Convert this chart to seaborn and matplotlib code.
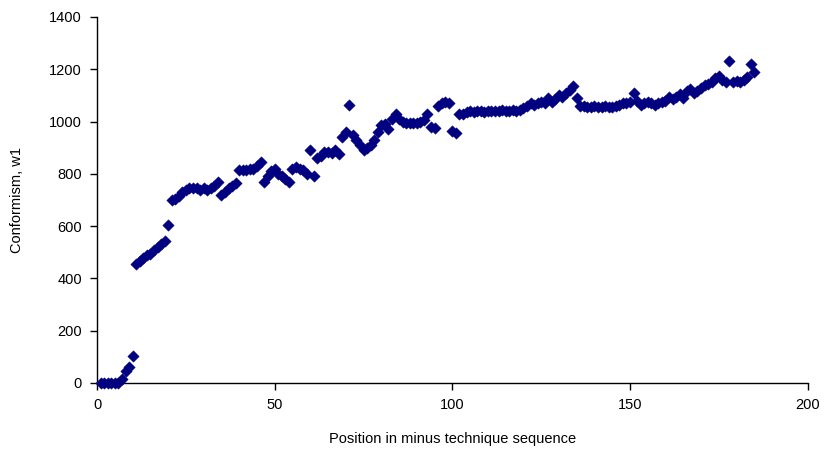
import numpy as np
import pandas as pd
import matplotlib
matplotlib.use("Agg")
import matplotlib.pyplot as plt
import seaborn as sns

conformism = [
    0, 0, 0, 0, 0, 0, 15, 45, 60, 105,
    455, 465, 480, 490, 495, 510, 520, 530, 545, 605,
    700, 705, 715, 730, 740, 745, 745, 745, 740, 745,
    740, 745, 755, 770, 720, 730, 745, 755, 765, 815,
    815, 815, 820, 820, 830, 845, 770, 790, 810, 820,
    800, 790, 780, 770, 820, 825, 820, 815, 800, 890,
    790, 860, 870, 885, 885, 880, 890, 875, 940, 960,
    1065, 950, 930, 910, 890, 900, 910, 930, 960, 985,
    990, 970, 1010, 1030, 1010, 1000, 995, 995, 995, 995,
    1000, 1005, 1030, 980, 975, 1060, 1070, 1075, 1070, 965,
    955, 1030, 1030, 1035, 1040, 1035, 1040, 1040, 1035, 1040,
    1040, 1040, 1040, 1045, 1040, 1040, 1045, 1040, 1045, 1050,
    1060, 1070, 1065, 1070, 1075, 1070, 1090, 1075, 1085, 1100,
    1095, 1110, 1120, 1135, 1090, 1060, 1060, 1055, 1055, 1060,
    1055, 1055, 1060, 1055, 1055, 1060, 1065, 1070, 1070, 1075,
    1110, 1080, 1065, 1070, 1075, 1070, 1065, 1070, 1075, 1080,
    1095, 1085, 1095, 1105, 1090, 1115, 1125, 1110, 1115, 1130,
    1140, 1145, 1150, 1165, 1175, 1160, 1150, 1230, 1150, 1155,
    1150, 1160, 1170, 1220, 1190,
]
position = list(range(1, len(conformism) + 1))

x_ticks = [0, 50, 100, 150, 200]
y_ticks = [0, 200, 400, 600, 800, 1000, 1200, 1400]

df = pd.DataFrame({"position": position, "conformism": conformism})

sns.set_theme(style="white")
plt.rcParams["font.family"] = ["Liberation Sans", "DejaVu Sans"]

fig = plt.figure(figsize=(8.3, 4.59), dpi=100)
ax = fig.add_axes([0.117, 0.1656, 0.856, 0.7974])

sns.scatterplot(data=df, x="position", y="conformism", ax=ax,
                marker="D", s=34, color="#000080", edgecolor="#000080",
                linewidth=0.3, clip_on=False, zorder=3)

ax.set_xlim(0, 200)
ax.set_ylim(0, 1400)
ax.set_xticks(x_ticks)
ax.set_yticks(y_ticks)
ax.tick_params(axis="both", direction="out", length=5, width=1,
               color="black", labelsize=10.5, labelcolor="black", pad=6,
               bottom=True, left=True)
for side in ["top", "right"]:
    ax.spines[side].set_visible(False)
for side in ["left", "bottom"]:
    ax.spines[side].set_color("black")
    ax.spines[side].set_linewidth(1)

ax.set_xlabel("Position in minus technique sequence", fontsize=10.5, color="black", labelpad=14)
ax.set_ylabel("Conformism, w1", fontsize=10.5, color="black", labelpad=18)

fig.savefig("out.png", dpi=100, facecolor="white")
